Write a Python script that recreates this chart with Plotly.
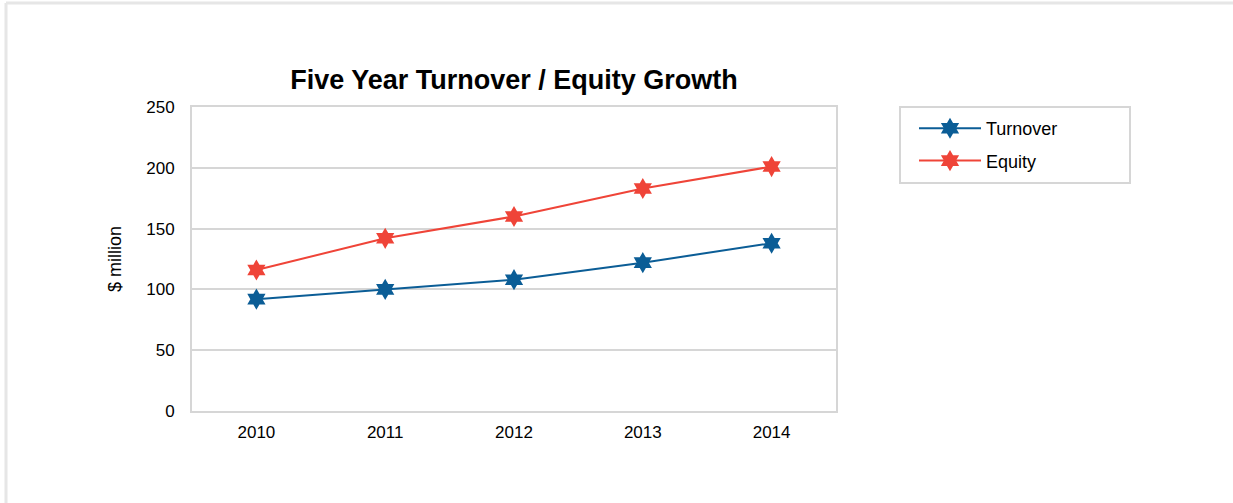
import plotly.graph_objects as go

years = ["2010", "2011", "2012", "2013", "2014"]
turnover = [92, 100, 108, 122, 138]
equity = [116, 142, 160, 183, 201]
y_ticks = [0, 50, 100, 150, 200, 250]

W, H = 1233, 503
L, R, T, B = 192, W - 836, 107, H - 411
PW, PH = W - L - R, H - T - B

def px(x):
    return (x - L) / PW

def py(y):
    return (H - B - y) / PH

BLUE = "#0b5d96"
RED = "#ef4438"
GRID = "#d6d6d6"
FONT = "Liberation Sans"

fig = go.Figure()
fig.add_trace(go.Scatter(x=years, y=turnover, name="Turnover", mode="lines+markers",
                         line=dict(color=BLUE, width=2),
                         marker=dict(symbol="hexagram", size=16, color=BLUE),
                         legendgroup="a"))
fig.add_trace(go.Scatter(x=years, y=equity, name="Equity", mode="lines+markers",
                         line=dict(color=RED, width=2),
                         marker=dict(symbol="hexagram", size=16, color=RED),
                         legendgroup="b"))

fig.update_layout(
    width=W, height=H,
    margin=dict(l=L, r=R, t=T, b=B, autoexpand=False),
    paper_bgcolor="white", plot_bgcolor="white",
    font=dict(family=FONT, size=17, color="#000000"),
    title=dict(text="<b>Five Year Turnover / Equity Growth</b>",
               font=dict(family=FONT, size=27, color="#000000"),
               x=px(514), xref="paper", xanchor="center",
               y=1 - 80 / H, yref="container", yanchor="middle"),
    xaxis=dict(type="category", range=[-0.5, 4.5], showgrid=False,
               showline=True, linecolor=GRID, linewidth=2, mirror=True,
               ticks="", ticklabelstandoff=5, tickfont=dict(size=17),
               zeroline=False, fixedrange=True),
    yaxis=dict(range=[0, 250], tickvals=y_ticks, showgrid=True, gridcolor=GRID, gridwidth=2,
               showline=True, linecolor=GRID, linewidth=2, mirror=True,
               ticks="", ticklabelstandoff=12, tickfont=dict(size=17),
               zeroline=False,
               title=dict(text="$ million", font=dict(size=18), standoff=20)),
    showlegend=True,
    legend=dict(x=px(914), y=py(110), xanchor="left", yanchor="top",
                bgcolor="rgba(0,0,0,0)", borderwidth=0,
                font=dict(family=FONT, size=18, color="#000000"),
                tracegroupgap=6, itemwidth=62),
    shapes=[
        dict(type="rect", xref="paper", yref="paper",
             x0=px(900), x1=px(1130), y0=py(183), y1=py(107),
             line=dict(color=GRID, width=2), fillcolor="rgba(0,0,0,0)"),
        dict(type="line", xref="paper", yref="paper",
             x0=px(6), x1=px(W + 5), y0=py(3), y1=py(3),
             line=dict(color="#e6e6e6", width=3)),
        dict(type="line", xref="paper", yref="paper",
             x0=px(6), x1=px(6), y0=py(3), y1=py(H + 5),
             line=dict(color="#e6e6e6", width=3)),
    ],
)

fig.write_html("out.html")
